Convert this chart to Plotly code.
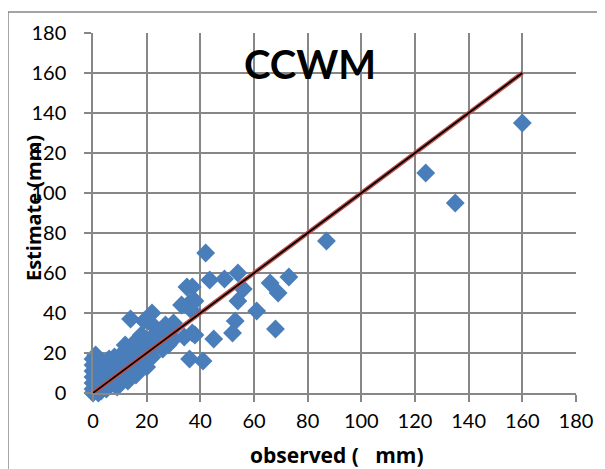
import plotly.graph_objects as go

observed = [0, 0, 0, 0, 0, 0, 0, 1, 1, 1, 2, 2, 2, 3, 3, 3, 4, 4, 5, 5, 5, 6, 6, 7, 7, 8, 8, 9, 9, 10, 10,
            11, 11, 12, 12, 13, 13, 14, 14, 15, 15, 16, 16, 17, 17, 18, 18, 19, 19, 20, 20, 20,
            21, 22, 22, 22, 23, 24, 25, 26, 27, 28, 28, 30, 30, 29,
            33, 34, 35, 36, 36, 37, 37, 38, 38, 41, 37,
            42, 43.5, 45, 49, 52, 53, 54, 54, 56, 61, 66, 68, 69, 73,
            87, 124, 135, 160]
estimate = [0, 2, 5, 8, 11, 14, 17, 3, 10, 19, 0, 6, 13, 1, 9, 16, 4, 12, 2, 7, 15, 10, 17, 5, 13, 8, 18, 11, 3, 7, 15,
            9, 20, 13, 24, 17, 6, 37, 11, 21, 14, 9, 26, 18, 12, 29, 22, 14, 36, 13, 25, 19,
            17, 40, 28, 18, 33, 24, 31, 22, 34, 24, 29, 35, 27, 31,
            44, 28, 53, 45, 17, 30, 41, 46, 29, 16, 53,
            70, 56.5, 27, 57, 30, 36, 60, 46, 52, 41, 55, 32, 50, 58,
            76, 110, 95, 135]
line_x = [0, 160]
line_y = [0, 160]
ticks = [0, 20, 40, 60, 80, 100, 120, 140, 160, 180]

FONT = "Lato"
TFONT = "Open Sans"
fig = go.Figure()
fig.add_trace(go.Scatter(x=observed, y=estimate, mode="markers",
                         marker=dict(symbol="diamond", size=14.5, color="#4A7EBB",
                                     line=dict(width=0)),
                         showlegend=False, cliponaxis=False))
fig.add_trace(go.Scatter(x=line_x, y=line_y, mode="lines",
                         line=dict(color="#C0504D", width=4.5), showlegend=False))
fig.add_trace(go.Scatter(x=line_x, y=line_y, mode="lines",
                         line=dict(color="#000000", width=1.8), showlegend=False))

axis_common = dict(range=[0, 180], tickvals=ticks, showgrid=True, gridcolor="#878787", gridwidth=1.5,
                   showline=True, linecolor="#878787", linewidth=1.5, ticks="outside",
                   ticklen=7, tickcolor="#878787", tickwidth=1.5, zeroline=False,
                   tickfont=dict(family=FONT, size=20, color="#000000"), mirror=False)
fig.update_xaxes(**axis_common, ticklabelstandoff=2)
fig.update_yaxes(**axis_common, ticklabelstandoff=14)

fig.add_shape(type="rect", xref="paper", yref="paper", x0=-0.176, y0=-0.4, x1=1.3, y1=1.058,
              line=dict(color="#878787", width=1.5), layer="below")

fig.add_annotation(text="<b>CCWM</b>", xref="paper", yref="paper", x=0.449, y=0.913,
                   xanchor="center", yanchor="middle",
                   showarrow=False, font=dict(family=FONT, size=40, color="#000000"))
fig.add_annotation(text="<b>Estimate (mm)</b>", xref="paper", yref="paper", x=-0.122, y=0.514,
                   xanchor="center", yanchor="middle",
                   textangle=-90, showarrow=False, font=dict(family=TFONT, size=20, color="#000000"))
fig.add_annotation(text="<b>observed (\u00a0\u00a0 mm)</b>", xref="paper", yref="paper", x=0.506, y=-0.172,
                   xanchor="center", yanchor="middle",
                   showarrow=False, font=dict(family=TFONT, size=21, color="#000000"))

fig.update_layout(width=605, height=469, margin=dict(l=85, r=37, t=25, b=84),
                  plot_bgcolor="white", paper_bgcolor="white")
fig.write_html("out.html")
